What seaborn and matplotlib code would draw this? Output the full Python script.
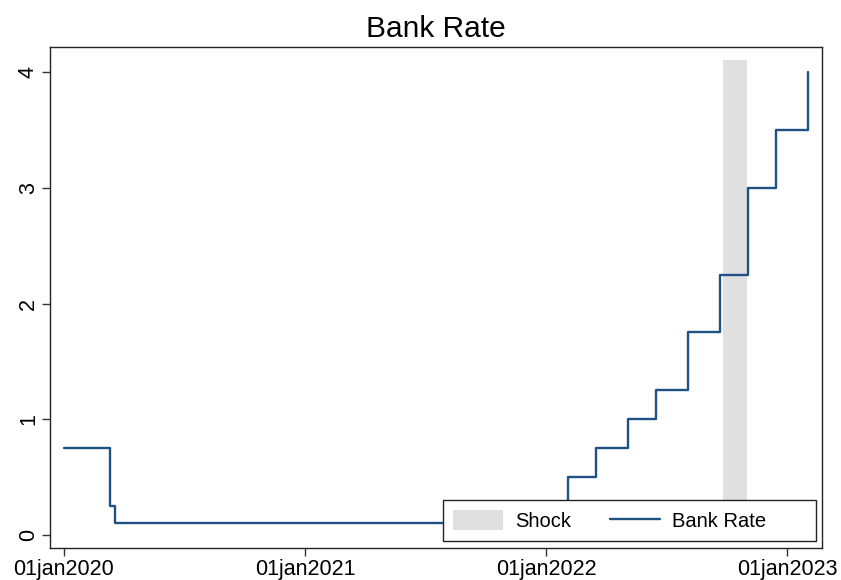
import matplotlib
matplotlib.use("Agg")
import matplotlib.pyplot as plt
from matplotlib.patches import Patch
from matplotlib.lines import Line2D
import seaborn as sns
import pandas as pd

# ---- data ----
rate_dates = ["2020-01-01", "2020-03-11", "2020-03-19", "2021-12-16", "2022-02-03",
              "2022-03-17", "2022-05-05", "2022-06-16", "2022-08-04", "2022-09-22",
              "2022-11-03", "2022-12-15", "2023-02-02"]
rates = [0.75, 0.25, 0.10, 0.25, 0.50, 0.75, 1.00, 1.25, 1.75, 2.25, 3.00, 3.50, 4.00]

shock_start = "2022-09-26"
shock_end = "2022-10-31"
shock_height = 4.1

tick_dates = ["2020-01-01", "2021-01-01", "2022-01-01", "2023-01-01"]
tick_labels = ["01jan2020", "01jan2021", "01jan2022", "01jan2023"]
y_ticks = [0, 1, 2, 3, 4]

title = "Bank Rate"
line_color = "#1f5283"
shock_color = "#e0e0e0"

# ---- plot ----
sns.set_style("white")
plt.rcParams["font.family"] = ["Liberation Sans", "DejaVu Sans"]
plt.rcParams["text.color"] = "black"
plt.rcParams["xtick.color"] = "black"
plt.rcParams["ytick.color"] = "black"

fig = plt.figure(figsize=(8.41, 5.80), dpi=100)
ax = fig.add_axes([50 / 841, 1 - 548 / 580, 772 / 841, 501 / 580])

df = pd.DataFrame({"date": pd.to_datetime(rate_dates), "rate": rates})

shock_days = pd.date_range(shock_start, shock_end, freq="D")
ax.bar(shock_days, [shock_height] * len(shock_days), width=1.05, align="edge",
       color=shock_color, edgecolor="none", zorder=1)

sns.lineplot(data=df, x="date", y="rate", drawstyle="steps-post", color=line_color,
             linewidth=1.7, ax=ax, zorder=2)

ax.set_xlim(pd.Timestamp("2019-12-11"), pd.Timestamp("2023-02-23"))
ax.set_ylim(-0.112, 4.216)
ax.set_xticks(pd.to_datetime(tick_dates))
ax.set_xticklabels(tick_labels, fontsize=15.5, color="black")
ax.set_yticks(y_ticks)
ax.set_yticklabels([str(v) for v in y_ticks], fontsize=15.5, rotation=90, va="center",
                   color="black")
ax.set_xlabel("")
ax.set_ylabel("")
ax.tick_params(axis="both", direction="out", length=6, width=1, color="#333333",
               bottom=True, left=True, pad=2)

for s in ax.spines.values():
    s.set_visible(True)
    s.set_color("#222222")
    s.set_linewidth(1.0)

ax.set_title(title, fontsize=21.5, pad=7, color="black")

handles = [Patch(facecolor=shock_color, edgecolor="none", label="Shock"),
           Line2D([0], [0], color=line_color, lw=1.7, label="Bank Rate" + " " * 7)]
leg = ax.legend(handles=handles, ncol=2, loc="lower left",
                bbox_to_anchor=(0.509, 0.014), borderaxespad=0.0,
                fontsize=14.5, frameon=True, fancybox=False, framealpha=1,
                edgecolor="#222222", handlelength=2.5, handleheight=1.1,
                borderpad=0.5, columnspacing=1.9, handletextpad=0.6)
leg.get_frame().set_linewidth(1.0)
leg.set_zorder(5)

fig.savefig("out.png", dpi=100)
